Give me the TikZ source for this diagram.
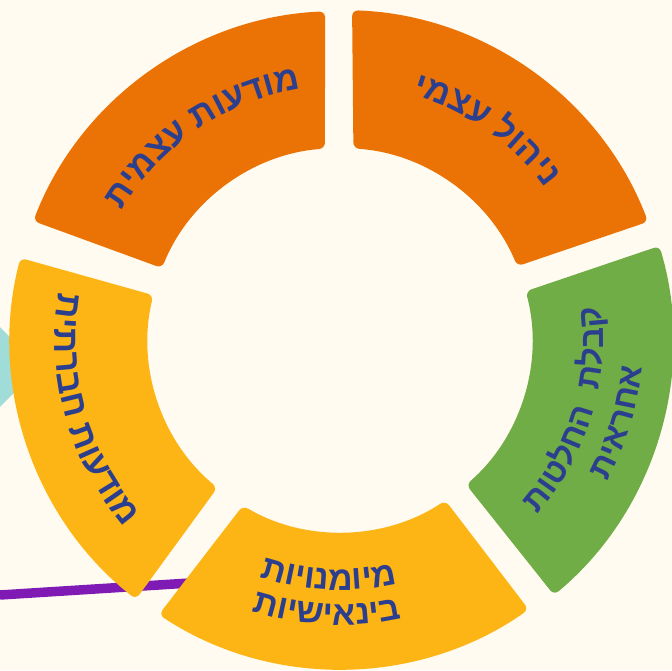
\documentclass[tikz,border=0pt]{standalone}
\usepackage{fontspec}
\newfontfamily\hebf[Script=Hebrew]{Liberation Sans Bold}
\definecolor{paper}{HTML}{FFFBF0}
\definecolor{ringorange}{HTML}{EB7306}
\definecolor{ringyellow}{HTML}{FDB515}
\definecolor{ringgreen}{HTML}{70AD47}
\definecolor{inknavy}{HTML}{2C3F8E}
\definecolor{linkpurple}{HTML}{7F1AB5}
\definecolor{tealshape}{HTML}{A0DDD9}
\tikzset{
  segment/.style={rounded corners=6pt},
  letter/.style={anchor=base,inner sep=0pt,outer sep=0pt,text=inknavy,font=\hebf\fontsize{#1}{#1}\selectfont},
}
\makeatletter
\newlength\arcw
\newlength\arctot
\newbox\arcbox
\newcommand\measureletter[2]{%
  \pgfinterruptpicture
  \global\setbox\arcbox\hbox{\hebf\fontsize{#1}{#1}\selectfont #2}%
  \endpgfinterruptpicture
  \setlength\arcw{\wd\arcbox}%
}
% mid angle, baseline radius, sign (+1 tops out, -1 tops in), font size, letters in reading order
\newcommand\arcletters[5]{%
  \setlength\arctot{0pt}%
  \@tfor\ch:=#5\do{\measureletter{#4}{\ch}\addtolength\arctot{\arcw}}%
  \pgfmathsetmacro\arcang{#1-(#3)*0.5*\arctot/(#2)*57.29578}%
  \@tfor\ch:=#5\do{%
    \measureletter{#4}{\ch}%
    \pgfmathsetmacro\arcmid{\arcang+(#3)*0.5*\arcw/(#2)*57.29578}%
    \pgfmathsetmacro\arcrot{\arcmid-(#3)*90}%
    \node[letter=#4,rotate=\arcrot] at (\arcmid:#2) {\ch};%
    \pgfmathsetmacro\arcang{\arcang+(#3)*\arcw/(#2)*57.29578}%
  }%
}
\makeatother
% colour, outer radius, outer start, outer end, inner end, inner start
\newcommand\ringseg[6]{%
  \fill[segment,#1] (#3:#2) arc[start angle=#3,end angle=#4,radius=#2]
    -- (#5:192) arc[start angle=#5,end angle=#6,radius=192] -- cycle;%
}
\begin{document}
\begin{tikzpicture}[x=1pt,y=1pt]
  \useasboundingbox (-340,-330) rectangle (332,340);
  \fill[paper] (-340,-330) rectangle (332,340);
  \fill[tealshape] (-340,13) -- (-300,-27) -- (-340,-67) -- cycle;
  \coordinate (linkstart) at (-340,-255);
  \coordinate (linkend) at (-150,-243);
  \draw[linkpurple,line width=9.5pt] (linkstart) -- (linkend);
  \ringseg{ringorange}{330}{87.9}{21}{22.6}{86}
  \ringseg{ringorange}{329}{92.6}{158.8}{158}{94.5}
  \ringseg{ringyellow}{330}{165.6}{231.8}{230.3}{166.5}
  \ringseg{ringyellow}{329}{236.6}{305}{303.3}{239.6}
  \ringseg{ringgreen}{333}{16.4}{-50}{-48.9}{14.7}
  \arcletters{55}{256}{1}{34.5}{ניהול~עצמי}
  \arcletters{124}{254}{1}{34.5}{מודעות~עצמית}
  \arcletters{195.7}{285}{-1}{35}{מודעות~חברתית}
  \arcletters{267.3}{250}{-1}{34}{מיומנויות}
  \arcletters{267.3}{285}{-1}{34}{בינאישיות}
  \arcletters{-17}{263}{-1}{33}{קבלת~~החלטות}
  \arcletters{-16.5}{303}{-1}{33}{אחראית}
\end{tikzpicture}
\end{document}
